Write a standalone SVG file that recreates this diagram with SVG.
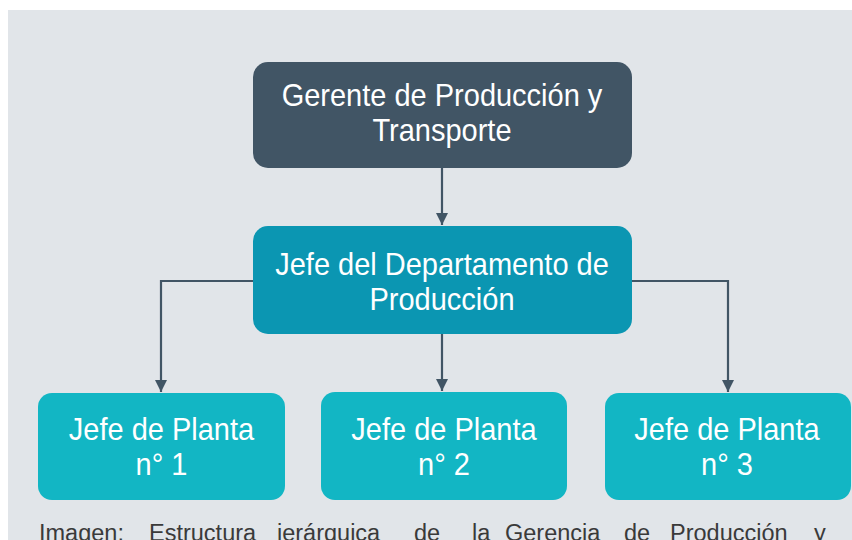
<svg xmlns="http://www.w3.org/2000/svg" width="852" height="540" viewBox="0 0 852 540">
<defs>
<style>
.box text{font-family:"Liberation Sans",Arial,sans-serif;font-size:29px;fill:#ffffff;text-anchor:middle}
.conn{fill:none;stroke:#415565;stroke-width:2.2}
.cap{font-family:"Liberation Sans",Arial,sans-serif;font-size:23.5px;fill:#3a3a3a}
</style>
<marker id="arrD" markerUnits="userSpaceOnUse" markerWidth="14" markerHeight="14" viewBox="0 0 14 14" refX="7" refY="13" orient="0">
<path d="M1,1 L13,1 L7,13 Z" fill="#415565"/>
</marker>
</defs>
<rect x="0" y="0" width="852" height="540" fill="#ffffff"/>
<rect x="8" y="10" width="844" height="530" fill="#e1e5e9"/>
<g id="connectors">
<path class="conn" d="M442,167 V225" marker-end="url(#arrD)"/>
<path class="conn" d="M254,281 H161 V392" marker-end="url(#arrD)"/>
<path class="conn" d="M631,281 H728 V392" marker-end="url(#arrD)"/>
<path class="conn" d="M442,333 V391" marker-end="url(#arrD)"/>
</g>
<g id="gerente" class="box">
<rect x="253" y="62" width="379" height="106" rx="15" fill="#415565"/>
<text transform="translate(442,106) scale(1,1.08)">Gerente de Producción y</text>
<text transform="translate(442,141) scale(1,1.08)">Transporte</text>
</g>
<g id="jefe-depto" class="box">
<rect x="253" y="226" width="379" height="108" rx="15" fill="#0b96b2"/>
<text transform="translate(442,275) scale(1,1.08)">Jefe del Departamento de</text>
<text transform="translate(442,310) scale(1,1.08)">Producción</text>
</g>
<g id="planta1" class="box">
<rect x="38" y="393" width="247" height="107" rx="14" fill="#12b6c4"/>
<text transform="translate(161.5,440) scale(1,1.08)">Jefe de Planta</text>
<text transform="translate(161.5,475) scale(1,1.08)">n° 1</text>
</g>
<g id="planta2" class="box">
<rect x="321" y="392" width="246" height="108" rx="14" fill="#12b6c4"/>
<text transform="translate(444,440) scale(1,1.08)">Jefe de Planta</text>
<text transform="translate(444,475) scale(1,1.08)">n° 2</text>
</g>
<g id="planta3" class="box">
<rect x="605" y="393" width="246" height="107" rx="14" fill="#12b6c4"/>
<text transform="translate(727,440) scale(1,1.08)">Jefe de Planta</text>
<text transform="translate(727,475) scale(1,1.08)">n° 3</text>
</g>
<text class="cap" y="541"><tspan x="39">Imagen:</tspan><tspan x="149">Estructura</tspan><tspan x="277">jerárquica</tspan><tspan x="414">de</tspan><tspan x="472">la</tspan><tspan x="505">Gerencia</tspan><tspan x="624">de</tspan><tspan x="670">Producción</tspan><tspan x="814">y</tspan></text>
</svg>
